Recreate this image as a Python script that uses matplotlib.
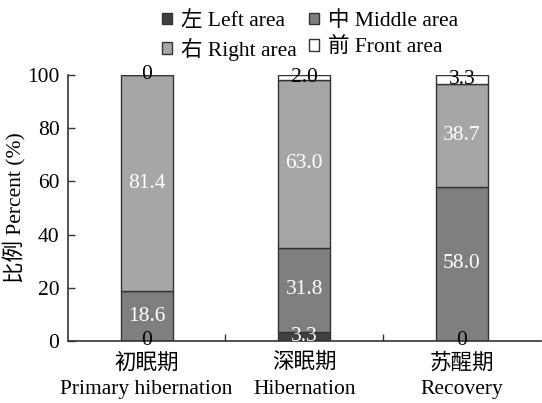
import matplotlib
matplotlib.use("Agg")
import matplotlib.pyplot as plt
from matplotlib.patches import Patch
import numpy as np

plt.rcParams['font.family'] = ['Liberation Serif', 'Noto Sans CJK SC']

categories = ['初眠期\nPrimary hibernation', '深眠期\nHibernation', '苏醒期\nRecovery']
left_area = [0, 3.3, 0]
middle_area = [18.6, 31.8, 58.0]
right_area = [81.4, 63.0, 38.7]
front_area = [0, 2.0, 3.3]
left_labels = ['0', '3.3', '0']
middle_labels = ['18.6', '31.8', '58.0']
right_labels = ['81.4', '63.0', '38.7']
front_labels = ['0', '2.0', '3.3']
series_names = ['左 Left area', '中 Middle area', '右 Right area', '前 Front area']

colors = ['#404040', '#7f7f7f', '#a6a6a6', '#ffffff']
edge = '#333333'

fig = plt.figure(figsize=(5.42, 4.03), dpi=100)
ax = fig.add_axes([0.125, 0.154, 0.873, 0.66])

x = np.arange(len(categories))
w = 0.33
series = [left_area, middle_area, right_area, front_area]
labels = [left_labels, middle_labels, right_labels, front_labels]
text_colors = [['black', 'white', 'black'], ['white'] * 3, ['white'] * 3, ['black'] * 3]
bottom = np.zeros(len(categories))
for s, (vals, labs, col) in enumerate(zip(series, labels, colors)):
    vals = np.array(vals, dtype=float)
    ax.bar(x, vals, w, bottom=bottom, color=col, edgecolor=edge, linewidth=1.0, zorder=2)
    for i in range(len(categories)):
        yc = bottom[i] + vals[i] / 2
        ax.text(x[i], yc, labs[i], ha='center', va='center', fontsize=15.5,
                color=text_colors[s][i], zorder=3)
    bottom = bottom + vals

ax.set_xlim(-0.5, 2.5)
ax.set_ylim(0, 100)
ax.set_yticks([0, 20, 40, 60, 80, 100])
ax.set_xticks(x)
ax.set_xticklabels(categories, fontsize=15.5, linespacing=1.45)
ax.set_xticks([0.5, 1.5], minor=True)
ax.tick_params(axis='x', which='major', length=0, pad=9)
ax.tick_params(axis='x', which='minor', direction='in', length=5, width=1, color=edge)
ax.tick_params(axis='y', direction='in', length=5, width=1, color=edge, labelsize=15.5, pad=6)
for sp in ['top', 'right']:
    ax.spines[sp].set_visible(False)
for sp in ['left', 'bottom']:
    ax.spines[sp].set_color(edge)
    ax.spines[sp].set_linewidth(1.2)
ax.set_ylabel('比例 Percent (%)', fontsize=15.5, labelpad=1)

handles = [Patch(facecolor=c, edgecolor=edge, linewidth=1.0) for c in colors]
order = [0, 2, 1, 3]
fig.legend([handles[i] for i in order], [series_names[i] for i in order],
           loc='upper center', bbox_to_anchor=(0.572, 1.02),
           ncol=2, frameon=False, fontsize=15.5, handlelength=0.45, handleheight=0.45,
           handletextpad=0.4, columnspacing=0.6, labelspacing=0.3)

fig.savefig('out.png', dpi=100)
